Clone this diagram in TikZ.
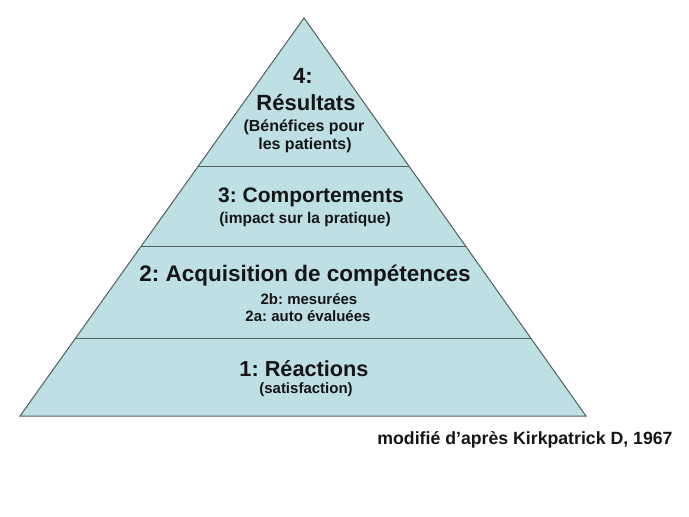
\documentclass[tikz,border=0pt]{standalone}
\usepackage{fontspec}
\setmainfont{Liberation Sans}
\usetikzlibrary{calc}
\definecolor{pyrfill}{HTML}{BEDFE4}
\definecolor{pyrline}{HTML}{4F5F63}
\definecolor{txt}{HTML}{151515}
\frenchspacing
\begin{document}
\begin{tikzpicture}[x=1pt,y=-1pt,
  lbl/.style={font=\bfseries\fontsize{#1}{#1}\selectfont, text=txt, inner sep=0pt},
  captext/.style={font=\bfseries\fontsize{17.7}{20}\selectfont, text=txt, inner sep=0pt}]
\useasboundingbox (0,0) rectangle (689,517);
% pyramid
\coordinate (apex) at (304,18);
\coordinate (bl) at (20,416);
\coordinate (br) at (586,416);
\fill[pyrfill] (apex) -- (bl) -- (br) -- cycle;
% layer boundaries
\coordinate (l1) at ($(apex)!148/398!(bl)$);
\coordinate (r1) at ($(apex)!148/398!(br)$);
\coordinate (l2) at ($(apex)!228/398!(bl)$);
\coordinate (r2) at ($(apex)!228/398!(br)$);
\coordinate (l3) at ($(apex)!320/398!(bl)$);
\coordinate (r3) at ($(apex)!320/398!(br)$);
\draw[pyrline, line width=1pt] (l1) -- (r1);
\draw[pyrline, line width=1pt] (l2) -- (r2);
\draw[pyrline, line width=1pt] (l3) -- (r3);
\draw[pyrline, line width=1pt, line join=miter] (apex) -- (bl) -- (br) -- cycle;
% texts
\node[lbl=22] (t4a) at (303,76) {4:};
\node[lbl=22] (t4b) at (306,103) {Résultats};
\node[lbl=16] (t4c) at (304,127) {(Bénéfices pour};
\node[lbl=16] (t4d) at (305,145) {les patients)};
\node[lbl=21] (t3a) at (311,197) {3: Comportements};
\node[lbl=15.5] (t3b) at (305,219) {(impact sur la pratique)};
\node[lbl=22.5] (t2a) at (305,276) {2: Acquisition de compétences};
\node[lbl=15] (t2b) at (309,299) {2b: mesurées};
\node[lbl=15] (t2c) at (308,316) {2a: auto évaluées};
\node[lbl=21.7] (t1a) at (304,369) {1: Réactions};
\node[lbl=15] (t1b) at (306,390) {(satisfaction)};
\node[captext] (caption) at (525,440) {modifié d’après Kirkpatrick D, 1967};
\end{tikzpicture}
\end{document}
